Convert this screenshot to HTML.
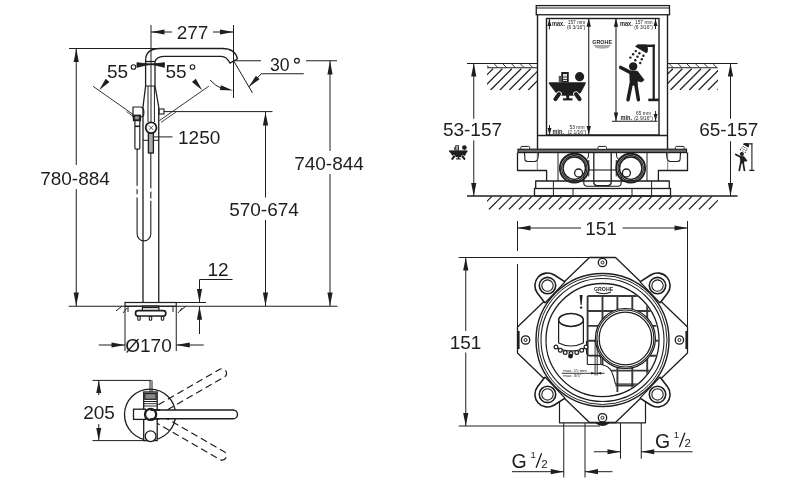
<!DOCTYPE html>
<html><head><meta charset="utf-8"><style>
html,body{margin:0;padding:0;background:#fff;width:800px;height:480px;overflow:hidden}
svg{display:block;font-family:"Liberation Sans",sans-serif;will-change:transform}
</style></head><body>
<svg width="800" height="480" viewBox="0 0 800 480">
<defs><clipPath id="h1"><rect x="487" y="68" width="50.5" height="22.3"/></clipPath><clipPath id="h2"><rect x="667.5" y="68" width="50.5" height="22.3"/></clipPath><clipPath id="h3"><rect x="487" y="196.3" width="231" height="13.4"/></clipPath><clipPath id="h4"><rect x="487" y="63.5" width="50.5" height="4.25"/></clipPath><clipPath id="h5"><rect x="667.5" y="63.5" width="50" height="4.25"/></clipPath><clipPath id="ic"><circle cx="602.5" cy="340" r="55.8"/></clipPath></defs>
<line x1="151" y1="25" x2="151" y2="122" stroke="#1e1e1e" stroke-width="1" />
<line x1="233.5" y1="25" x2="233.5" y2="98" stroke="#1e1e1e" stroke-width="1" />
<line x1="151" y1="32" x2="172" y2="32" stroke="#1e1e1e" stroke-width="1.0" />
<line x1="213" y1="32" x2="233.5" y2="32" stroke="#1e1e1e" stroke-width="1.0" />
<polygon points="151.00,32.00 164.50,29.40 164.50,34.60" fill="#1e1e1e"/>
<polygon points="233.50,32.00 220.00,34.60 220.00,29.40" fill="#1e1e1e"/>
<text x="192.5" y="39" font-size="19" text-anchor="middle" font-weight="normal" fill="#1e1e1e" >277</text>
<line x1="69" y1="48.5" x2="160" y2="48.5" stroke="#1e1e1e" stroke-width="1.0" />
<line x1="76.25" y1="48.5" x2="76.25" y2="165" stroke="#1e1e1e" stroke-width="1.0" />
<line x1="76.25" y1="189" x2="76.25" y2="306" stroke="#1e1e1e" stroke-width="1.0" />
<polygon points="76.25,48.50 78.85,62.00 73.65,62.00" fill="#1e1e1e"/>
<polygon points="76.25,306.00 73.65,292.50 78.85,292.50" fill="#1e1e1e"/>
<text x="75" y="184.5" font-size="19" text-anchor="middle" font-weight="normal" fill="#1e1e1e" >780-884</text>
<path d="M145.6,62 L145.6,60 Q146,48.5 160,48.5 L222.5,48.5 Q235,48.5 237.5,58.75 L230,63.1 Q226.5,56.3 221.25,56.3 L163.8,56.3 Q156,56.5 155,62" stroke="#1e1e1e" stroke-width="1.3" fill="none" stroke-linejoin="round" />
<text x="107" y="77.5" font-size="19" text-anchor="start" font-weight="normal" fill="#1e1e1e" >55</text>
<circle cx="133.5" cy="67" r="2.3" stroke="#1e1e1e" stroke-width="1.1" fill="none"/>
<text x="165.5" y="77.5" font-size="19" text-anchor="start" font-weight="normal" fill="#1e1e1e" >55</text>
<circle cx="192.5" cy="67" r="2.3" stroke="#1e1e1e" stroke-width="1.1" fill="none"/>
<polygon points="136.9,62.6 136.9,67.4 150,64.3" stroke="#1e1e1e" stroke-width="0.6" fill="#1e1e1e" stroke-linejoin="round"/>
<polygon points="164.5,62.6 164.5,67.4 151.5,64.3" stroke="#1e1e1e" stroke-width="0.6" fill="#1e1e1e" stroke-linejoin="round"/>
<line x1="137" y1="64.3" x2="164.5" y2="64.3" stroke="#1e1e1e" stroke-width="1.8" />
<polygon points="99.25,90.00 105.70,78.78 109.47,82.06" fill="#1e1e1e"/>
<polygon points="202.25,90.25 191.98,81.90 195.81,78.68" fill="#1e1e1e"/>
<line x1="93" y1="86.25" x2="133" y2="114.4" stroke="#1e1e1e" stroke-width="0.9" />
<line x1="126.5" y1="111.6" x2="133" y2="116.2" stroke="#1e1e1e" stroke-width="0.8" />
<line x1="208.75" y1="86.25" x2="159.4" y2="120.6" stroke="#1e1e1e" stroke-width="0.9" />
<line x1="176" y1="112" x2="161" y2="122.4" stroke="#1e1e1e" stroke-width="0.8" />
<line x1="145.6" y1="62" x2="145.6" y2="86" stroke="#1e1e1e" stroke-width="1.3" />
<line x1="155" y1="62" x2="155" y2="86" stroke="#1e1e1e" stroke-width="1.3" />
<line x1="145.6" y1="61.5" x2="155" y2="61.5" stroke="#1e1e1e" stroke-width="1.3" />
<line x1="145.6" y1="86" x2="155" y2="86" stroke="#1e1e1e" stroke-width="1" />
<path d="M145.6,86 L143,107 L143,302.5" stroke="#1e1e1e" stroke-width="1.3" fill="none" stroke-linejoin="round" />
<path d="M155,86 L158.75,107 L158.75,302.5" stroke="#1e1e1e" stroke-width="1.3" fill="none" stroke-linejoin="round" />
<line x1="148" y1="86" x2="148" y2="122" stroke="#1e1e1e" stroke-width="1" />
<line x1="154.4" y1="86" x2="154.4" y2="122" stroke="#1e1e1e" stroke-width="1" />
<circle cx="151.1" cy="127.7" r="5.4" stroke="#1e1e1e" stroke-width="1.8" fill="white"/>
<line x1="149" y1="125.6" x2="153.2" y2="129.8" stroke="#1e1e1e" stroke-width="0.8" />
<line x1="153.2" y1="125.6" x2="149" y2="129.8" stroke="#1e1e1e" stroke-width="0.8" />
<rect x="148.4" y="133.3" width="5" height="19.7" rx="0" stroke="#1e1e1e" stroke-width="1.3" fill="#aaa"/>
<line x1="150.8" y1="152.5" x2="150.8" y2="234" stroke="#1e1e1e" stroke-width="1.1" />
<line x1="143" y1="140.3" x2="148.4" y2="140.3" stroke="#1e1e1e" stroke-width="1" />
<line x1="153.4" y1="140.3" x2="158.75" y2="140.3" stroke="#1e1e1e" stroke-width="1" />
<path d="M133,117 L133,107 L141,107 Q143.8,108 143.8,111 L143.8,114 Q143.5,117 141,117 Z" stroke="#1e1e1e" stroke-width="1.2" fill="none" stroke-linejoin="round" />
<rect x="133.8" y="115.6" width="6.3" height="4.6" rx="0" stroke="#1e1e1e" stroke-width="2.0" fill="white"/>
<circle cx="135.5" cy="118" r="0.9" stroke="#1e1e1e" stroke-width="0.7" fill="none"/>
<circle cx="138.4" cy="118" r="0.9" stroke="#1e1e1e" stroke-width="0.7" fill="none"/>
<path d="M134.9,121 L134.9,148 Q134.9,149.2 136.1,149.2 L138.6,149.2 Q139.8,149.2 139.8,148 L139.8,121" stroke="#1e1e1e" stroke-width="1.2" fill="none" stroke-linejoin="round" />
<line x1="134.9" y1="126.3" x2="139.8" y2="126.3" stroke="#1e1e1e" stroke-width="1.6" />
<path d="M137.1,149 L137.1,234 A6.85,6.85 0 0 0 150.8,234" stroke="#1e1e1e" stroke-width="1.1" fill="none" stroke-linejoin="round" />
<rect x="136.1" y="185.8" width="2" height="3.4" rx="0" stroke="#1e1e1e" stroke-width="0" fill="#fff"/>
<rect x="136.1" y="194.2" width="2" height="3.3" rx="0" stroke="#1e1e1e" stroke-width="0" fill="#fff"/>
<rect x="149.8" y="188.3" width="2" height="3.4" rx="0" stroke="#1e1e1e" stroke-width="0" fill="#fff"/>
<rect x="149.8" y="198.3" width="2" height="2.5" rx="0" stroke="#1e1e1e" stroke-width="0" fill="#fff"/>
<rect x="159" y="109" width="5" height="5" rx="0" stroke="#1e1e1e" stroke-width="1.1" fill="none"/>
<line x1="163.75" y1="111.6" x2="272.5" y2="111.6" stroke="#1e1e1e" stroke-width="1" />
<line x1="153.75" y1="136.9" x2="172.5" y2="136.9" stroke="#1e1e1e" stroke-width="1" />
<text x="178" y="143.75" font-size="19" text-anchor="start" font-weight="normal" fill="#1e1e1e" >1250</text>
<line x1="265.5" y1="112" x2="265.5" y2="197.5" stroke="#1e1e1e" stroke-width="1.0" />
<line x1="265.5" y1="220" x2="265.5" y2="306" stroke="#1e1e1e" stroke-width="1.0" />
<polygon points="265.50,112.00 268.10,125.50 262.90,125.50" fill="#1e1e1e"/>
<polygon points="265.50,306.00 262.90,292.50 268.10,292.50" fill="#1e1e1e"/>
<text x="264" y="216" font-size="19" text-anchor="middle" font-weight="normal" fill="#1e1e1e" >570-674</text>
<line x1="330" y1="61" x2="330" y2="151" stroke="#1e1e1e" stroke-width="1.0" />
<line x1="330" y1="174" x2="330" y2="306" stroke="#1e1e1e" stroke-width="1.0" />
<polygon points="330.00,61.00 332.60,74.50 327.40,74.50" fill="#1e1e1e"/>
<polygon points="330.00,306.00 327.40,292.50 332.60,292.50" fill="#1e1e1e"/>
<text x="329" y="170" font-size="19" text-anchor="middle" font-weight="normal" fill="#1e1e1e" >740-844</text>
<line x1="234.4" y1="60.75" x2="261" y2="60.75" stroke="#1e1e1e" stroke-width="1.0" />
<line x1="306" y1="60.75" x2="337" y2="60.75" stroke="#1e1e1e" stroke-width="1.0" />
<text x="270" y="71" font-size="19" text-anchor="start" font-weight="normal" fill="#1e1e1e" textLength="19.6" lengthAdjust="spacingAndGlyphs">30</text>
<circle cx="296.9" cy="60.8" r="2.4" stroke="#1e1e1e" stroke-width="1.2" fill="none"/>
<line x1="233.75" y1="61" x2="252.5" y2="93" stroke="#1e1e1e" stroke-width="1" />
<line x1="261.25" y1="73.75" x2="303.75" y2="73.75" stroke="#1e1e1e" stroke-width="1" />
<line x1="261.25" y1="73.75" x2="249" y2="86.9" stroke="#1e1e1e" stroke-width="1" />
<polygon points="248.75,86.90 255.89,75.75 259.51,79.19" fill="#1e1e1e"/>
<path d="M210,80 Q216,86.5 221.5,88.2" stroke="#1e1e1e" stroke-width="1" fill="none" stroke-linejoin="round" />
<polygon points="233.10,90.60 219.89,90.01 220.97,85.34" fill="#1e1e1e"/>
<rect x="125" y="302.5" width="51.25" height="3.75" rx="0" stroke="#1e1e1e" stroke-width="1.2" fill="none"/>
<line x1="68.75" y1="306.25" x2="337.5" y2="306.25" stroke="#1e1e1e" stroke-width="1.1" />
<line x1="125" y1="306" x2="125" y2="351" stroke="#1e1e1e" stroke-width="1" />
<line x1="176.25" y1="306" x2="176.25" y2="351" stroke="#1e1e1e" stroke-width="1" />
<line x1="116" y1="311" x2="122" y2="306" stroke="#1e1e1e" stroke-width="1" />
<line x1="180" y1="311" x2="186" y2="306" stroke="#1e1e1e" stroke-width="1" />
<line x1="123" y1="313" x2="127" y2="308" stroke="#1e1e1e" stroke-width="0.9" />
<line x1="178" y1="313" x2="182" y2="308" stroke="#1e1e1e" stroke-width="0.9" />
<line x1="128" y1="306" x2="128" y2="312" stroke="#1e1e1e" stroke-width="1" />
<line x1="173" y1="306" x2="173" y2="312" stroke="#1e1e1e" stroke-width="1" />
<rect x="142.4" y="306" width="16.5" height="4.7" rx="0" stroke="#1e1e1e" stroke-width="1.2" fill="white"/>
<line x1="142.4" y1="307.3" x2="158.9" y2="307.3" stroke="#1e1e1e" stroke-width="1.8" />
<rect x="137.8" y="316" width="2.4" height="4.3" rx="1" stroke="#1e1e1e" stroke-width="1.1" fill="white"/>
<rect x="149.3" y="316" width="2.4" height="4.3" rx="1" stroke="#1e1e1e" stroke-width="1.1" fill="white"/>
<rect x="161.3" y="316" width="2.4" height="4.3" rx="1" stroke="#1e1e1e" stroke-width="1.1" fill="white"/>
<rect x="135.5" y="310.7" width="30.3" height="5.3" rx="2.5" stroke="#1e1e1e" stroke-width="1.7" fill="white"/>
<line x1="98.75" y1="345" x2="125" y2="345" stroke="#1e1e1e" stroke-width="1.0" />
<line x1="176.25" y1="345" x2="203.75" y2="345" stroke="#1e1e1e" stroke-width="1.0" />
<polygon points="125.00,345.00 111.50,347.60 111.50,342.40" fill="#1e1e1e"/>
<polygon points="176.25,345.00 189.75,342.40 189.75,347.60" fill="#1e1e1e"/>
<text x="148.5" y="352" font-size="19" text-anchor="middle" font-weight="normal" fill="#1e1e1e" >Ø170</text>
<line x1="199.5" y1="279.5" x2="232.5" y2="279.5" stroke="#1e1e1e" stroke-width="1.0" />
<line x1="199.5" y1="279.5" x2="199.5" y2="302.5" stroke="#1e1e1e" stroke-width="1.0" />
<polygon points="199.50,302.50 196.90,289.00 202.10,289.00" fill="#1e1e1e"/>
<line x1="176" y1="302.5" x2="206" y2="302.5" stroke="#1e1e1e" stroke-width="1.0" />
<line x1="199.5" y1="306.25" x2="199.5" y2="334" stroke="#1e1e1e" stroke-width="1.0" />
<polygon points="199.50,306.25 202.10,319.75 196.90,319.75" fill="#1e1e1e"/>
<text x="207.5" y="276" font-size="19" text-anchor="start" font-weight="normal" fill="#1e1e1e" >12</text>
<line x1="92.5" y1="380.4" x2="151.3" y2="380.4" stroke="#1e1e1e" stroke-width="1.0" />
<line x1="150" y1="380.4" x2="150" y2="392" stroke="#1e1e1e" stroke-width="1.0" />
<line x1="152" y1="380.4" x2="152" y2="392" stroke="#1e1e1e" stroke-width="1.0" />
<line x1="92.5" y1="440.6" x2="151" y2="440.6" stroke="#1e1e1e" stroke-width="1.0" />
<line x1="98.75" y1="380.4" x2="98.75" y2="395" stroke="#1e1e1e" stroke-width="1.0" />
<line x1="98.75" y1="424" x2="98.75" y2="440.6" stroke="#1e1e1e" stroke-width="1.0" />
<polygon points="98.75,380.40 101.25,392.90 96.25,392.90" fill="#1e1e1e"/>
<polygon points="98.75,440.60 96.25,428.10 101.25,428.10" fill="#1e1e1e"/>
<text x="99" y="419" font-size="19" text-anchor="middle" font-weight="normal" fill="#1e1e1e" >205</text>
<circle cx="150" cy="414.6" r="25.5" stroke="#1e1e1e" stroke-width="1.3" fill="none"/>
<path d="M158.0,415.2 L224.2,377.0 A4.4,4.4 0 0 0 219.8,369.3 L153.6,407.6" stroke="#1e1e1e" stroke-width="1.2" fill="none" stroke-linejoin="round" stroke-dasharray="7,4"/>
<path d="M153.6,421.2 L219.8,459.5 A4.4,4.4 0 0 0 224.2,451.8 L158.0,413.6" stroke="#1e1e1e" stroke-width="1.2" fill="none" stroke-linejoin="round" stroke-dasharray="7,4"/>
<rect x="143.7" y="392" width="13.5" height="48.6" rx="0" stroke="#1e1e1e" stroke-width="1.3" fill="white"/>
<rect x="144.8" y="393.5" width="11.3" height="5.8" rx="0" stroke="#1e1e1e" stroke-width="1.2" fill="#888"/>
<line x1="143.7" y1="401.5" x2="157.2" y2="401.5" stroke="#1e1e1e" stroke-width="1" />
<line x1="143.7" y1="403.7" x2="157.2" y2="403.7" stroke="#1e1e1e" stroke-width="0.9" />
<line x1="143.7" y1="406" x2="157.2" y2="406" stroke="#1e1e1e" stroke-width="0.9" />
<rect x="133.5" y="409.2" width="12" height="10.2" rx="0" stroke="#1e1e1e" stroke-width="1.3" fill="white"/>
<path d="M150.6,410 L233.1,410 A4.4,4.4 0 0 1 233.1,418.8 L150.6,418.8" stroke="#1e1e1e" stroke-width="1.4" fill="white" stroke-linejoin="round" />
<circle cx="150.6" cy="414.4" r="5.6" stroke="#1e1e1e" stroke-width="2.2" fill="none"/>
<path d="M150.6,410 L160,410 M150.6,418.8 L160,418.8" stroke="#1e1e1e" stroke-width="1.4" fill="none" stroke-linejoin="round" />
<circle cx="150.6" cy="436.2" r="5.4" stroke="#1e1e1e" stroke-width="1.3" fill="white"/>
<line x1="467" y1="63.5" x2="537.5" y2="63.5" stroke="#1e1e1e" stroke-width="1.2" />
<line x1="487" y1="67.75" x2="537.5" y2="67.75" stroke="#1e1e1e" stroke-width="1.2" />
<g clip-path="url(#h4)">
<line x1="476.25" y1="63.5" x2="480.5" y2="67.75" stroke="#1e1e1e" stroke-width="0.9" />
<line x1="485.0" y1="63.5" x2="489.25" y2="67.75" stroke="#1e1e1e" stroke-width="0.9" />
<line x1="493.75" y1="63.5" x2="498.0" y2="67.75" stroke="#1e1e1e" stroke-width="0.9" />
<line x1="502.5" y1="63.5" x2="506.75" y2="67.75" stroke="#1e1e1e" stroke-width="0.9" />
<line x1="511.25" y1="63.5" x2="515.5" y2="67.75" stroke="#1e1e1e" stroke-width="0.9" />
<line x1="520.0" y1="63.5" x2="524.25" y2="67.75" stroke="#1e1e1e" stroke-width="0.9" />
<line x1="528.75" y1="63.5" x2="533.0" y2="67.75" stroke="#1e1e1e" stroke-width="0.9" />
<line x1="537.5" y1="63.5" x2="541.75" y2="67.75" stroke="#1e1e1e" stroke-width="0.9" />
</g>
<g clip-path="url(#h1)">
<line x1="452.95" y1="90" x2="474.2" y2="68.75" stroke="#1e1e1e" stroke-width="1.2" />
<line x1="462.35" y1="90" x2="483.6" y2="68.75" stroke="#1e1e1e" stroke-width="1.2" />
<line x1="471.75" y1="90" x2="493.0" y2="68.75" stroke="#1e1e1e" stroke-width="1.2" />
<line x1="481.15" y1="90" x2="502.4" y2="68.75" stroke="#1e1e1e" stroke-width="1.2" />
<line x1="490.55" y1="90" x2="511.8" y2="68.75" stroke="#1e1e1e" stroke-width="1.2" />
<line x1="499.95" y1="90" x2="521.2" y2="68.75" stroke="#1e1e1e" stroke-width="1.2" />
<line x1="509.35" y1="90" x2="530.6" y2="68.75" stroke="#1e1e1e" stroke-width="1.2" />
<line x1="518.75" y1="90" x2="540.0" y2="68.75" stroke="#1e1e1e" stroke-width="1.2" />
<line x1="528.15" y1="90" x2="549.4" y2="68.75" stroke="#1e1e1e" stroke-width="1.2" />
<line x1="537.55" y1="90" x2="558.8" y2="68.75" stroke="#1e1e1e" stroke-width="1.2" />
<line x1="546.95" y1="90" x2="568.2" y2="68.75" stroke="#1e1e1e" stroke-width="1.2" />
<line x1="556.35" y1="90" x2="577.6" y2="68.75" stroke="#1e1e1e" stroke-width="1.2" />
</g>
<line x1="667.5" y1="63.5" x2="737.5" y2="63.5" stroke="#1e1e1e" stroke-width="1.2" />
<line x1="667.5" y1="67.75" x2="717.5" y2="67.75" stroke="#1e1e1e" stroke-width="1.2" />
<g clip-path="url(#h5)">
<line x1="651.5" y1="63.5" x2="655.75" y2="67.75" stroke="#1e1e1e" stroke-width="0.9" />
<line x1="660.25" y1="63.5" x2="664.5" y2="67.75" stroke="#1e1e1e" stroke-width="0.9" />
<line x1="669.0" y1="63.5" x2="673.25" y2="67.75" stroke="#1e1e1e" stroke-width="0.9" />
<line x1="677.75" y1="63.5" x2="682.0" y2="67.75" stroke="#1e1e1e" stroke-width="0.9" />
<line x1="686.5" y1="63.5" x2="690.75" y2="67.75" stroke="#1e1e1e" stroke-width="0.9" />
<line x1="695.25" y1="63.5" x2="699.5" y2="67.75" stroke="#1e1e1e" stroke-width="0.9" />
<line x1="704.0" y1="63.5" x2="708.25" y2="67.75" stroke="#1e1e1e" stroke-width="0.9" />
<line x1="712.75" y1="63.5" x2="717.0" y2="67.75" stroke="#1e1e1e" stroke-width="0.9" />
<line x1="721.5" y1="63.5" x2="725.75" y2="67.75" stroke="#1e1e1e" stroke-width="0.9" />
</g>
<g clip-path="url(#h2)">
<line x1="632.85" y1="90" x2="654.1" y2="68.75" stroke="#1e1e1e" stroke-width="1.2" />
<line x1="642.25" y1="90" x2="663.5" y2="68.75" stroke="#1e1e1e" stroke-width="1.2" />
<line x1="651.65" y1="90" x2="672.9" y2="68.75" stroke="#1e1e1e" stroke-width="1.2" />
<line x1="661.05" y1="90" x2="682.3" y2="68.75" stroke="#1e1e1e" stroke-width="1.2" />
<line x1="670.45" y1="90" x2="691.7" y2="68.75" stroke="#1e1e1e" stroke-width="1.2" />
<line x1="679.85" y1="90" x2="701.1" y2="68.75" stroke="#1e1e1e" stroke-width="1.2" />
<line x1="689.25" y1="90" x2="710.5" y2="68.75" stroke="#1e1e1e" stroke-width="1.2" />
<line x1="698.65" y1="90" x2="719.9" y2="68.75" stroke="#1e1e1e" stroke-width="1.2" />
<line x1="708.05" y1="90" x2="729.3" y2="68.75" stroke="#1e1e1e" stroke-width="1.2" />
<line x1="717.45" y1="90" x2="738.7" y2="68.75" stroke="#1e1e1e" stroke-width="1.2" />
<line x1="726.85" y1="90" x2="748.1" y2="68.75" stroke="#1e1e1e" stroke-width="1.2" />
<line x1="736.25" y1="90" x2="757.5" y2="68.75" stroke="#1e1e1e" stroke-width="1.2" />
</g>
<line x1="467" y1="196" x2="737.5" y2="196" stroke="#1e1e1e" stroke-width="1.5" />
<g clip-path="url(#h3)">
<line x1="458.8" y1="209.5" x2="472.0" y2="196.3" stroke="#1e1e1e" stroke-width="1.1" />
<line x1="468.8" y1="209.5" x2="482.0" y2="196.3" stroke="#1e1e1e" stroke-width="1.1" />
<line x1="478.8" y1="209.5" x2="492.0" y2="196.3" stroke="#1e1e1e" stroke-width="1.1" />
<line x1="488.8" y1="209.5" x2="502.0" y2="196.3" stroke="#1e1e1e" stroke-width="1.1" />
<line x1="498.8" y1="209.5" x2="512.0" y2="196.3" stroke="#1e1e1e" stroke-width="1.1" />
<line x1="508.8" y1="209.5" x2="522.0" y2="196.3" stroke="#1e1e1e" stroke-width="1.1" />
<line x1="518.8" y1="209.5" x2="532.0" y2="196.3" stroke="#1e1e1e" stroke-width="1.1" />
<line x1="528.8" y1="209.5" x2="542.0" y2="196.3" stroke="#1e1e1e" stroke-width="1.1" />
<line x1="538.8" y1="209.5" x2="552.0" y2="196.3" stroke="#1e1e1e" stroke-width="1.1" />
<line x1="548.8" y1="209.5" x2="562.0" y2="196.3" stroke="#1e1e1e" stroke-width="1.1" />
<line x1="558.8" y1="209.5" x2="572.0" y2="196.3" stroke="#1e1e1e" stroke-width="1.1" />
<line x1="568.8" y1="209.5" x2="582.0" y2="196.3" stroke="#1e1e1e" stroke-width="1.1" />
<line x1="578.8" y1="209.5" x2="592.0" y2="196.3" stroke="#1e1e1e" stroke-width="1.1" />
<line x1="588.8" y1="209.5" x2="602.0" y2="196.3" stroke="#1e1e1e" stroke-width="1.1" />
<line x1="598.8" y1="209.5" x2="612.0" y2="196.3" stroke="#1e1e1e" stroke-width="1.1" />
<line x1="608.8" y1="209.5" x2="622.0" y2="196.3" stroke="#1e1e1e" stroke-width="1.1" />
<line x1="618.8" y1="209.5" x2="632.0" y2="196.3" stroke="#1e1e1e" stroke-width="1.1" />
<line x1="628.8" y1="209.5" x2="642.0" y2="196.3" stroke="#1e1e1e" stroke-width="1.1" />
<line x1="638.8" y1="209.5" x2="652.0" y2="196.3" stroke="#1e1e1e" stroke-width="1.1" />
<line x1="648.8" y1="209.5" x2="662.0" y2="196.3" stroke="#1e1e1e" stroke-width="1.1" />
<line x1="658.8" y1="209.5" x2="672.0" y2="196.3" stroke="#1e1e1e" stroke-width="1.1" />
<line x1="668.8" y1="209.5" x2="682.0" y2="196.3" stroke="#1e1e1e" stroke-width="1.1" />
<line x1="678.8" y1="209.5" x2="692.0" y2="196.3" stroke="#1e1e1e" stroke-width="1.1" />
<line x1="688.8" y1="209.5" x2="702.0" y2="196.3" stroke="#1e1e1e" stroke-width="1.1" />
<line x1="698.8" y1="209.5" x2="712.0" y2="196.3" stroke="#1e1e1e" stroke-width="1.1" />
<line x1="708.8" y1="209.5" x2="722.0" y2="196.3" stroke="#1e1e1e" stroke-width="1.1" />
<line x1="718.8" y1="209.5" x2="732.0" y2="196.3" stroke="#1e1e1e" stroke-width="1.1" />
<line x1="728.8" y1="209.5" x2="742.0" y2="196.3" stroke="#1e1e1e" stroke-width="1.1" />
</g>
<line x1="473.75" y1="63.5" x2="473.75" y2="118.75" stroke="#1e1e1e" stroke-width="1.0" />
<line x1="473.75" y1="140.4" x2="473.75" y2="196" stroke="#1e1e1e" stroke-width="1.0" />
<polygon points="473.75,63.50 476.35,76.50 471.15,76.50" fill="#1e1e1e"/>
<polygon points="473.75,196.00 471.15,183.00 476.35,183.00" fill="#1e1e1e"/>
<text x="472.5" y="136.25" font-size="19" text-anchor="middle" font-weight="normal" fill="#1e1e1e" >53-157</text>
<line x1="730.5" y1="63.5" x2="730.5" y2="118.75" stroke="#1e1e1e" stroke-width="1.0" />
<line x1="730.5" y1="141.2" x2="730.5" y2="196" stroke="#1e1e1e" stroke-width="1.0" />
<polygon points="730.50,63.50 733.10,76.50 727.90,76.50" fill="#1e1e1e"/>
<polygon points="730.50,196.00 727.90,183.00 733.10,183.00" fill="#1e1e1e"/>
<text x="728.75" y="136.25" font-size="19" text-anchor="middle" font-weight="normal" fill="#1e1e1e" >65-157</text>
<rect x="536.25" y="5.6" width="133.25" height="9.15" rx="0" stroke="#1e1e1e" stroke-width="1.3" fill="none"/>
<line x1="536.25" y1="8.0" x2="669.5" y2="8.0" stroke="#1e1e1e" stroke-width="1.1" />
<line x1="537.5" y1="14.75" x2="537.5" y2="149.2" stroke="#1e1e1e" stroke-width="1.4" />
<line x1="667.5" y1="14.75" x2="667.5" y2="149.2" stroke="#1e1e1e" stroke-width="1.4" />
<rect x="546.5" y="18.5" width="112.5" height="116.5" rx="0" stroke="#1e1e1e" stroke-width="1.4" fill="none"/>
<line x1="537.5" y1="135.5" x2="667.5" y2="135.5" stroke="#1e1e1e" stroke-width="1.6" />
<line x1="588.75" y1="18.5" x2="588.75" y2="135" stroke="#1e1e1e" stroke-width="1.1" />
<polygon points="588.75,18.30 590.95,26.80 586.55,26.80" fill="#1e1e1e"/>
<polygon points="588.75,134.50 586.55,126.00 590.95,126.00" fill="#1e1e1e"/>
<line x1="616" y1="18.5" x2="616" y2="121.25" stroke="#1e1e1e" stroke-width="1.1" />
<polygon points="616.00,18.30 618.20,26.80 613.80,26.80" fill="#1e1e1e"/>
<polygon points="616.00,121.00 613.80,112.50 618.20,112.50" fill="#1e1e1e"/>
<line x1="612" y1="121.25" x2="657.5" y2="121.25" stroke="#1e1e1e" stroke-width="1.1" />
<line x1="549.4" y1="19" x2="549.4" y2="29.4" stroke="#1e1e1e" stroke-width="1" />
<polygon points="549.40,19.00 551.40,26.00 547.40,26.00" fill="#1e1e1e"/>
<line x1="549.5" y1="125" x2="549.5" y2="135" stroke="#1e1e1e" stroke-width="1" />
<polygon points="549.50,135.00 547.50,128.00 551.50,128.00" fill="#1e1e1e"/>
<line x1="655.5" y1="19" x2="655.5" y2="29" stroke="#1e1e1e" stroke-width="1" />
<polygon points="655.50,19.00 657.50,26.00 653.50,26.00" fill="#1e1e1e"/>
<line x1="655.6" y1="111" x2="655.6" y2="121" stroke="#1e1e1e" stroke-width="1" />
<polygon points="655.60,121.00 653.60,114.00 657.60,114.00" fill="#1e1e1e"/>
<text x="552" y="25.6" font-size="7.6" text-anchor="start" font-weight="bold" fill="#1e1e1e" textLength="12.8" lengthAdjust="spacingAndGlyphs">max.</text>
<text x="576.5" y="23.8" font-size="4.9" text-anchor="middle" font-weight="normal" fill="#1e1e1e" >157 mm</text>
<text x="576.2" y="29.2" font-size="4.9" text-anchor="middle" font-weight="normal" fill="#1e1e1e" >(6 3/16")</text>
<text x="620" y="25.6" font-size="7.6" text-anchor="start" font-weight="bold" fill="#1e1e1e" textLength="12.8" lengthAdjust="spacingAndGlyphs">max.</text>
<text x="643.75" y="23.8" font-size="4.9" text-anchor="middle" font-weight="normal" fill="#1e1e1e" >157 mm</text>
<text x="643.5" y="29.1" font-size="4.9" text-anchor="middle" font-weight="normal" fill="#1e1e1e" >(6 3/16")</text>
<text x="552.5" y="134" font-size="7.6" text-anchor="start" font-weight="bold" fill="#1e1e1e" textLength="11.5" lengthAdjust="spacingAndGlyphs">min.</text>
<text x="577" y="129.2" font-size="4.9" text-anchor="middle" font-weight="normal" fill="#1e1e1e" >53 mm</text>
<text x="577" y="134.2" font-size="4.9" text-anchor="middle" font-weight="normal" fill="#1e1e1e" >(2 1/16")</text>
<text x="620.6" y="120.2" font-size="7.6" text-anchor="start" font-weight="bold" fill="#1e1e1e" textLength="11.5" lengthAdjust="spacingAndGlyphs">min.</text>
<text x="643.5" y="115.2" font-size="4.9" text-anchor="middle" font-weight="normal" fill="#1e1e1e" >65 mm</text>
<text x="643.5" y="120.2" font-size="4.9" text-anchor="middle" font-weight="normal" fill="#1e1e1e" >(2 9/16")</text>
<text x="602.1" y="44.0" font-size="5.0" text-anchor="middle" font-weight="bold" fill="#1e1e1e" textLength="19.8" lengthAdjust="spacingAndGlyphs">GROHE</text>
<path d="M593.3,45 L596,48 L602.1,48.8 L608.2,48 L610.9,45 Z" stroke="#1e1e1e" stroke-width="0" fill="#aaa" stroke-linejoin="round" />
<g transform="translate(549.2,82.5) scale(1)">
<polygon points="0,0 36.2,0 36.2,1.25 31.6,10 26.6,12.9 12.5,12.9 6.6,10 0,1.25" stroke="#1e1e1e" stroke-width="0.5" fill="#1e1e1e" stroke-linejoin="round"/>
<line x1="9.8" y1="11.6" x2="6.2" y2="16.7" stroke="#fff" stroke-width="5.6" stroke-linecap="round"/>
<line x1="26.8" y1="11.6" x2="30.4" y2="16.7" stroke="#fff" stroke-width="5.6" stroke-linecap="round"/>
<line x1="9.8" y1="11.6" x2="6.2" y2="16.7" stroke="#1e1e1e" stroke-width="4" stroke-linecap="round"/>
<line x1="26.8" y1="11.6" x2="30.4" y2="16.7" stroke="#1e1e1e" stroke-width="4" stroke-linecap="round"/>
<rect x="17.05" y="12" width="2.95" height="5" rx="0" stroke="#1e1e1e" stroke-width="0" fill="#1e1e1e"/>
<rect x="13.7" y="15.8" width="9.6" height="2.1" rx="0" stroke="#1e1e1e" stroke-width="0" fill="#1e1e1e"/>
<rect x="12.05" y="-10.5" width="7.5" height="10.5" rx="0" stroke="#1e1e1e" stroke-width="0" fill="#1e1e1e"/>
<rect x="9.55" y="-6.7" width="2.95" height="6.7" rx="0" stroke="#1e1e1e" stroke-width="0" fill="#555"/>
<rect x="13.8" y="-8.5" width="4" height="7" rx="0" stroke="#1e1e1e" stroke-width="0" fill="#ddd"/>
<line x1="13.8" y1="-5.5" x2="17.8" y2="-5.5" stroke="#1e1e1e" stroke-width="0.8" />
<line x1="13.8" y1="-3" x2="17.8" y2="-3" stroke="#1e1e1e" stroke-width="0.8" />
<circle cx="30.4" cy="-5.8" r="4.6" stroke="#1e1e1e" stroke-width="0" fill="#1e1e1e"/>
</g>
<g transform="translate(449.2,150.5) scale(0.5)">
<polygon points="0,0 36.2,0 36.2,1.25 31.6,10 26.6,12.9 12.5,12.9 6.6,10 0,1.25" stroke="#1e1e1e" stroke-width="0.5" fill="#1e1e1e" stroke-linejoin="round"/>
<line x1="9.8" y1="11.6" x2="6.2" y2="16.7" stroke="#fff" stroke-width="5.6" stroke-linecap="round"/>
<line x1="26.8" y1="11.6" x2="30.4" y2="16.7" stroke="#fff" stroke-width="5.6" stroke-linecap="round"/>
<line x1="9.8" y1="11.6" x2="6.2" y2="16.7" stroke="#1e1e1e" stroke-width="4" stroke-linecap="round"/>
<line x1="26.8" y1="11.6" x2="30.4" y2="16.7" stroke="#1e1e1e" stroke-width="4" stroke-linecap="round"/>
<rect x="17.05" y="12" width="2.95" height="5" rx="0" stroke="#1e1e1e" stroke-width="0" fill="#1e1e1e"/>
<rect x="13.7" y="15.8" width="9.6" height="2.1" rx="0" stroke="#1e1e1e" stroke-width="0" fill="#1e1e1e"/>
<rect x="12.05" y="-10.5" width="7.5" height="10.5" rx="0" stroke="#1e1e1e" stroke-width="0" fill="#1e1e1e"/>
<rect x="9.55" y="-6.7" width="2.95" height="6.7" rx="0" stroke="#1e1e1e" stroke-width="0" fill="#555"/>
<rect x="13.8" y="-8.5" width="4" height="7" rx="0" stroke="#1e1e1e" stroke-width="0" fill="#ddd"/>
<line x1="13.8" y1="-5.5" x2="17.8" y2="-5.5" stroke="#1e1e1e" stroke-width="0.8" />
<line x1="13.8" y1="-3" x2="17.8" y2="-3" stroke="#1e1e1e" stroke-width="0.8" />
<circle cx="30.4" cy="-5.8" r="4.6" stroke="#1e1e1e" stroke-width="0" fill="#1e1e1e"/>
</g>
<g transform="translate(620,44) scale(1)">
<path d="M15,2.5 L17.5,0.6 L26.4,0.6 Q28.5,3 27.7,7.9 L26.4,9.2 Z" stroke="#1e1e1e" stroke-width="0" fill="#1e1e1e" stroke-linejoin="round" />
<rect x="17.5" y="0.6" width="17.3" height="2.4" rx="0" stroke="#1e1e1e" stroke-width="0" fill="#1e1e1e"/>
<rect x="32.6" y="0.6" width="2.2" height="55.2" rx="0" stroke="#1e1e1e" stroke-width="0" fill="#1e1e1e"/>
<rect x="28.3" y="54.6" width="10.5" height="2.6" rx="0" stroke="#1e1e1e" stroke-width="0" fill="#1e1e1e"/>
<circle cx="15.8" cy="7.1" r="1.2" stroke="#1e1e1e" stroke-width="0" fill="#1e1e1e"/>
<circle cx="13.1" cy="10.3" r="1.2" stroke="#1e1e1e" stroke-width="0" fill="#1e1e1e"/>
<circle cx="19.4" cy="9.2" r="1.2" stroke="#1e1e1e" stroke-width="0" fill="#1e1e1e"/>
<circle cx="10.4" cy="13.6" r="1.2" stroke="#1e1e1e" stroke-width="0" fill="#1e1e1e"/>
<circle cx="17.5" cy="12.8" r="1.2" stroke="#1e1e1e" stroke-width="0" fill="#1e1e1e"/>
<circle cx="23.4" cy="11.7" r="1.2" stroke="#1e1e1e" stroke-width="0" fill="#1e1e1e"/>
<circle cx="15.3" cy="16.3" r="1.2" stroke="#1e1e1e" stroke-width="0" fill="#1e1e1e"/>
<circle cx="21.8" cy="15.2" r="1.2" stroke="#1e1e1e" stroke-width="0" fill="#1e1e1e"/>
<circle cx="20.2" cy="19" r="1.2" stroke="#1e1e1e" stroke-width="0" fill="#1e1e1e"/>
<circle cx="13.2" cy="22.5" r="4.2" stroke="#1e1e1e" stroke-width="0" fill="#1e1e1e"/>
<line x1="0.7" y1="23.5" x2="11.7" y2="29.2" stroke="#1e1e1e" stroke-width="3.6" stroke-linecap="round"/>
<path d="M9.6,27.1 L17.4,27.1 L24.2,36 L21.6,38 L17.4,37 L17.4,41.2 L10.1,41.2 Z" stroke="#1e1e1e" stroke-width="0.6" fill="#1e1e1e" stroke-linejoin="round" />
<line x1="11.1" y1="40.2" x2="8" y2="55.8" stroke="#1e1e1e" stroke-width="3.5" stroke-linecap="round"/>
<line x1="15.8" y1="40.2" x2="18.4" y2="55.8" stroke="#1e1e1e" stroke-width="3.5" stroke-linecap="round"/>
</g>
<g transform="translate(735.4,143) scale(0.49)">
<path d="M15,2.5 L17.5,0.6 L26.4,0.6 Q28.5,3 27.7,7.9 L26.4,9.2 Z" stroke="#1e1e1e" stroke-width="0" fill="#1e1e1e" stroke-linejoin="round" />
<rect x="17.5" y="0.6" width="17.3" height="2.4" rx="0" stroke="#1e1e1e" stroke-width="0" fill="#1e1e1e"/>
<rect x="32.6" y="0.6" width="2.2" height="55.2" rx="0" stroke="#1e1e1e" stroke-width="0" fill="#1e1e1e"/>
<rect x="28.3" y="54.6" width="10.5" height="2.6" rx="0" stroke="#1e1e1e" stroke-width="0" fill="#1e1e1e"/>
<circle cx="15.8" cy="7.1" r="1.2" stroke="#1e1e1e" stroke-width="0" fill="#1e1e1e"/>
<circle cx="13.1" cy="10.3" r="1.2" stroke="#1e1e1e" stroke-width="0" fill="#1e1e1e"/>
<circle cx="19.4" cy="9.2" r="1.2" stroke="#1e1e1e" stroke-width="0" fill="#1e1e1e"/>
<circle cx="10.4" cy="13.6" r="1.2" stroke="#1e1e1e" stroke-width="0" fill="#1e1e1e"/>
<circle cx="17.5" cy="12.8" r="1.2" stroke="#1e1e1e" stroke-width="0" fill="#1e1e1e"/>
<circle cx="23.4" cy="11.7" r="1.2" stroke="#1e1e1e" stroke-width="0" fill="#1e1e1e"/>
<circle cx="15.3" cy="16.3" r="1.2" stroke="#1e1e1e" stroke-width="0" fill="#1e1e1e"/>
<circle cx="21.8" cy="15.2" r="1.2" stroke="#1e1e1e" stroke-width="0" fill="#1e1e1e"/>
<circle cx="20.2" cy="19" r="1.2" stroke="#1e1e1e" stroke-width="0" fill="#1e1e1e"/>
<circle cx="13.2" cy="22.5" r="4.2" stroke="#1e1e1e" stroke-width="0" fill="#1e1e1e"/>
<line x1="0.7" y1="23.5" x2="11.7" y2="29.2" stroke="#1e1e1e" stroke-width="3.6" stroke-linecap="round"/>
<path d="M9.6,27.1 L17.4,27.1 L24.2,36 L21.6,38 L17.4,37 L17.4,41.2 L10.1,41.2 Z" stroke="#1e1e1e" stroke-width="0.6" fill="#1e1e1e" stroke-linejoin="round" />
<line x1="11.1" y1="40.2" x2="8" y2="55.8" stroke="#1e1e1e" stroke-width="3.5" stroke-linecap="round"/>
<line x1="15.8" y1="40.2" x2="18.4" y2="55.8" stroke="#1e1e1e" stroke-width="3.5" stroke-linecap="round"/>
</g>
<rect x="518" y="149.2" width="168.5" height="3.4" rx="0" stroke="#1e1e1e" stroke-width="1.2" fill="#666"/>
<rect x="520.8" y="146.4" width="8.8" height="2.8" rx="1" stroke="#1e1e1e" stroke-width="1" fill="white"/>
<rect x="675.4" y="146.4" width="8.8" height="2.8" rx="1" stroke="#1e1e1e" stroke-width="1" fill="white"/>
<rect x="598" y="146.4" width="8.5" height="3" rx="1" stroke="#1e1e1e" stroke-width="1" fill="white"/>
<path d="M517.5,152.6 L517.5,170.5 L546.6,170.5 L546.6,181" stroke="#1e1e1e" stroke-width="1.3" fill="none" stroke-linejoin="round" />
<path d="M524.5,152.6 L525,160 Q525.5,161.5 528,161.5 L535,161.5 Q537.5,161 538,158 L538.5,152.6" stroke="#1e1e1e" stroke-width="1.1" fill="none" stroke-linejoin="round" />
<line x1="537.3" y1="152.6" x2="537.3" y2="170.5" stroke="#555" stroke-width="0.8" />
<path d="M687.5,152.6 L687.5,170.5 L658.4,170.5 L658.4,181" stroke="#1e1e1e" stroke-width="1.3" fill="none" stroke-linejoin="round" />
<path d="M680.5,152.6 L680,160 Q679.5,161.5 677,161.5 L670,161.5 Q667.5,161 667,158 L666.5,152.6" stroke="#1e1e1e" stroke-width="1.1" fill="none" stroke-linejoin="round" />
<line x1="667.7" y1="152.6" x2="667.7" y2="170.5" stroke="#555" stroke-width="0.8" />
<path d="M535.7,188.5 L535.7,181 L669.3,181 L669.3,188.5" stroke="#1e1e1e" stroke-width="1.3" fill="none" stroke-linejoin="round" />
<rect x="534.5" y="188.5" width="136" height="7.5" rx="0" stroke="#1e1e1e" stroke-width="1.3" fill="none"/>
<line x1="553.4" y1="181" x2="553.4" y2="196" stroke="#1e1e1e" stroke-width="1" />
<line x1="651.6" y1="181" x2="651.6" y2="196" stroke="#1e1e1e" stroke-width="1" />
<line x1="573" y1="188.5" x2="573" y2="196" stroke="#1e1e1e" stroke-width="1" />
<line x1="632" y1="188.5" x2="632" y2="196" stroke="#1e1e1e" stroke-width="1" />
<line x1="558" y1="152.6" x2="558" y2="181" stroke="#1e1e1e" stroke-width="1" />
<line x1="647" y1="152.6" x2="647" y2="181" stroke="#1e1e1e" stroke-width="1" />
<circle cx="574.3" cy="168.2" r="14.4" stroke="#1e1e1e" stroke-width="1.9" fill="none"/>
<circle cx="574.3" cy="168.2" r="12.6" stroke="#1e1e1e" stroke-width="1.1" fill="none"/>
<circle cx="574.3" cy="168.2" r="11.2" stroke="#1e1e1e" stroke-width="1.4" fill="none"/>
<circle cx="578.6" cy="173" r="4" stroke="#1e1e1e" stroke-width="1.3" fill="white"/>
<circle cx="630.7" cy="168.2" r="14.4" stroke="#1e1e1e" stroke-width="1.9" fill="none"/>
<circle cx="630.7" cy="168.2" r="12.6" stroke="#1e1e1e" stroke-width="1.1" fill="none"/>
<circle cx="630.7" cy="168.2" r="11.2" stroke="#1e1e1e" stroke-width="1.4" fill="none"/>
<circle cx="626.4" cy="173" r="4" stroke="#1e1e1e" stroke-width="1.3" fill="white"/>
<path d="M593.8,152.6 L593.8,182.5 Q594,185.6 597,185.6 L608,185.6 Q611,185.6 611.2,182.5 L611.2,152.6" stroke="#1e1e1e" stroke-width="1.3" fill="none" stroke-linejoin="round" />
<line x1="588.75" y1="170" x2="616.25" y2="170" stroke="#1e1e1e" stroke-width="1.1" />
<path d="M583.8,176.5 L583.8,183 Q584,186.2 587,186.2 L618,186.2 Q621,186.2 621.2,183 L621.2,176.5" stroke="#1e1e1e" stroke-width="1.1" fill="none" stroke-linejoin="round" />
<path d="M588.75,152.6 Q589,158 586,160" stroke="#1e1e1e" stroke-width="1" fill="none" stroke-linejoin="round" />
<path d="M616.25,152.6 Q616,158 619,160" stroke="#1e1e1e" stroke-width="1" fill="none" stroke-linejoin="round" />
<line x1="588.75" y1="160" x2="588.75" y2="176.5" stroke="#1e1e1e" stroke-width="1" />
<line x1="616.25" y1="160" x2="616.25" y2="176.5" stroke="#1e1e1e" stroke-width="1" />
<line x1="517.5" y1="221" x2="517.5" y2="251" stroke="#1e1e1e" stroke-width="1.0" />
<line x1="517.5" y1="264" x2="517.5" y2="331" stroke="#1e1e1e" stroke-width="1.0" />
<line x1="687.5" y1="221" x2="687.5" y2="332" stroke="#1e1e1e" stroke-width="1.0" />
<line x1="517.5" y1="228" x2="581" y2="228" stroke="#1e1e1e" stroke-width="1.0" />
<line x1="622.5" y1="228" x2="687.5" y2="228" stroke="#1e1e1e" stroke-width="1.0" />
<polygon points="517.50,228.00 530.50,225.40 530.50,230.60" fill="#1e1e1e"/>
<polygon points="687.50,228.00 674.50,230.60 674.50,225.40" fill="#1e1e1e"/>
<text x="601" y="235" font-size="19" text-anchor="middle" font-weight="normal" fill="#1e1e1e" >151</text>
<line x1="458.75" y1="257.5" x2="595" y2="257.5" stroke="#1e1e1e" stroke-width="1.0" />
<line x1="458.75" y1="426" x2="600" y2="426" stroke="#1e1e1e" stroke-width="1.0" />
<line x1="465.75" y1="257.5" x2="465.75" y2="331" stroke="#1e1e1e" stroke-width="1.0" />
<line x1="465.75" y1="352.5" x2="465.75" y2="426" stroke="#1e1e1e" stroke-width="1.0" />
<polygon points="465.75,257.50 468.35,270.50 463.15,270.50" fill="#1e1e1e"/>
<polygon points="465.75,426.00 463.15,413.00 468.35,413.00" fill="#1e1e1e"/>
<text x="465.5" y="348.75" font-size="19" text-anchor="middle" font-weight="normal" fill="#1e1e1e" >151</text>
<line x1="563.75" y1="423" x2="563.75" y2="477.5" stroke="#1e1e1e" stroke-width="1.0" />
<line x1="585" y1="423" x2="585" y2="477.5" stroke="#1e1e1e" stroke-width="1.0" />
<line x1="620.5" y1="423" x2="620.5" y2="458.75" stroke="#1e1e1e" stroke-width="1.0" />
<line x1="641.25" y1="423" x2="641.25" y2="458.75" stroke="#1e1e1e" stroke-width="1.0" />
<line x1="512" y1="471.7" x2="563.75" y2="471.7" stroke="#1e1e1e" stroke-width="1.0" />
<polygon points="563.75,471.70 550.75,474.30 550.75,469.10" fill="#1e1e1e"/>
<line x1="585" y1="471.7" x2="612.5" y2="471.7" stroke="#1e1e1e" stroke-width="1.0" />
<polygon points="585.00,471.70 598.00,469.10 598.00,474.30" fill="#1e1e1e"/>
<line x1="593.75" y1="451.75" x2="620.5" y2="451.75" stroke="#1e1e1e" stroke-width="1.0" />
<polygon points="620.50,451.75 607.50,454.35 607.50,449.15" fill="#1e1e1e"/>
<line x1="641.25" y1="451.75" x2="692.5" y2="451.75" stroke="#1e1e1e" stroke-width="1.0" />
<polygon points="641.25,451.75 654.25,449.15 654.25,454.35" fill="#1e1e1e"/>
<text x="511.6" y="467.9" font-size="19.5" text-anchor="start" font-weight="normal" fill="#1e1e1e" >G</text>
<text x="530.5" y="457.9" font-size="9.5" text-anchor="start" font-weight="normal" fill="#1e1e1e" >1</text>
<line x1="536.1" y1="467.7" x2="541.6" y2="453.2" stroke="#1e1e1e" stroke-width="1.3" />
<text x="541.2" y="467.5" font-size="11.5" text-anchor="start" font-weight="normal" fill="#1e1e1e" >2</text>
<text x="654.9" y="447.5" font-size="19.5" text-anchor="start" font-weight="normal" fill="#1e1e1e" >G</text>
<text x="673.8" y="437.5" font-size="9.5" text-anchor="start" font-weight="normal" fill="#1e1e1e" >1</text>
<line x1="679.4" y1="447.3" x2="684.9" y2="432.8" stroke="#1e1e1e" stroke-width="1.3" />
<text x="684.5" y="447.1" font-size="11.5" text-anchor="start" font-weight="normal" fill="#1e1e1e" >2</text>
<polygon points="589.5,257.5 615.5,257.5 687.5,327 687.5,353 615.5,422.5 589.5,422.5 517.5,353 517.5,327" stroke="#1e1e1e" stroke-width="1.3" fill="white" stroke-linejoin="round"/>
<line x1="518.8" y1="331" x2="518.8" y2="349" stroke="#1e1e1e" stroke-width="1.6" />
<line x1="686.2" y1="331" x2="686.2" y2="349" stroke="#1e1e1e" stroke-width="1.6" />
<circle cx="602.5" cy="340" r="66.5" stroke="#1e1e1e" stroke-width="1.4" fill="white"/>
<circle cx="602.5" cy="340" r="64.5" stroke="#1e1e1e" stroke-width="1.0" fill="none"/>
<circle cx="602.5" cy="340" r="61.5" stroke="#1e1e1e" stroke-width="1.1" fill="none"/>
<circle cx="602.5" cy="340" r="56.5" stroke="#1e1e1e" stroke-width="1.3" fill="none"/>
<path d="M545.00,303.00 L537.52,293.29 A12.6,12.6 0 0 1 554.33,275.01 L565.00,281.90 Z" stroke="#1e1e1e" stroke-width="0" fill="white" stroke-linejoin="round" />
<path d="M545.00,303.00 L565.00,281.90" stroke="#1e1e1e" stroke-width="1.3" fill="none" stroke-linejoin="round" />
<path d="M545.00,303.00 L537.52,293.29 A12.6,12.6 0 0 1 554.33,275.01 L565.00,281.90" stroke="#1e1e1e" stroke-width="1.6" fill="none" stroke-linejoin="round" />
<circle cx="547.5" cy="285.6" r="8.2" stroke="#1e1e1e" stroke-width="1.6" fill="none"/>
<circle cx="547.5" cy="285.6" r="5.7" stroke="#1e1e1e" stroke-width="1.1" fill="none"/>
<path d="M660.00,303.00 L667.48,293.29 A12.6,12.6 0 0 0 650.67,275.01 L640.00,281.90 Z" stroke="#1e1e1e" stroke-width="0" fill="white" stroke-linejoin="round" />
<path d="M660.00,303.00 L640.00,281.90" stroke="#1e1e1e" stroke-width="1.3" fill="none" stroke-linejoin="round" />
<path d="M660.00,303.00 L667.48,293.29 A12.6,12.6 0 0 0 650.67,275.01 L640.00,281.90" stroke="#1e1e1e" stroke-width="1.6" fill="none" stroke-linejoin="round" />
<circle cx="657.5" cy="285.6" r="8.2" stroke="#1e1e1e" stroke-width="1.6" fill="none"/>
<circle cx="657.5" cy="285.6" r="5.7" stroke="#1e1e1e" stroke-width="1.1" fill="none"/>
<path d="M545.00,377.00 L537.52,386.71 A12.6,12.6 0 0 0 554.33,404.99 L565.00,398.10 Z" stroke="#1e1e1e" stroke-width="0" fill="white" stroke-linejoin="round" />
<path d="M545.00,377.00 L565.00,398.10" stroke="#1e1e1e" stroke-width="1.3" fill="none" stroke-linejoin="round" />
<path d="M545.00,377.00 L537.52,386.71 A12.6,12.6 0 0 0 554.33,404.99 L565.00,398.10" stroke="#1e1e1e" stroke-width="1.6" fill="none" stroke-linejoin="round" />
<circle cx="547.5" cy="394.4" r="8.2" stroke="#1e1e1e" stroke-width="1.6" fill="none"/>
<circle cx="547.5" cy="394.4" r="5.7" stroke="#1e1e1e" stroke-width="1.1" fill="none"/>
<path d="M660.00,377.00 L667.48,386.71 A12.6,12.6 0 0 1 650.67,404.99 L640.00,398.10 Z" stroke="#1e1e1e" stroke-width="0" fill="white" stroke-linejoin="round" />
<path d="M660.00,377.00 L640.00,398.10" stroke="#1e1e1e" stroke-width="1.3" fill="none" stroke-linejoin="round" />
<path d="M660.00,377.00 L667.48,386.71 A12.6,12.6 0 0 1 650.67,404.99 L640.00,398.10" stroke="#1e1e1e" stroke-width="1.6" fill="none" stroke-linejoin="round" />
<circle cx="657.5" cy="394.4" r="8.2" stroke="#1e1e1e" stroke-width="1.6" fill="none"/>
<circle cx="657.5" cy="394.4" r="5.7" stroke="#1e1e1e" stroke-width="1.1" fill="none"/>
<path d="M559.5,401 L559.5,422.8 L645.5,422.8 L645.5,401" stroke="#1e1e1e" stroke-width="1.2" fill="none" stroke-linejoin="round" />
<path d="M596,423 Q602.5,428 609,423 Z" stroke="#1e1e1e" stroke-width="1" fill="#1e1e1e" stroke-linejoin="round" />
<circle cx="602.5" cy="262.5" r="4.2" stroke="#1e1e1e" stroke-width="1.3" fill="white"/>
<circle cx="602.5" cy="262.5" r="1.5" stroke="#1e1e1e" stroke-width="1" fill="none"/>
<circle cx="602.5" cy="417.8" r="4.2" stroke="#1e1e1e" stroke-width="1.3" fill="white"/>
<circle cx="602.5" cy="417.8" r="1.5" stroke="#1e1e1e" stroke-width="1" fill="none"/>
<circle cx="525.6" cy="340" r="4.2" stroke="#1e1e1e" stroke-width="1.3" fill="white"/>
<circle cx="525.6" cy="340" r="1.5" stroke="#1e1e1e" stroke-width="1" fill="none"/>
<circle cx="679.4" cy="340" r="4.2" stroke="#1e1e1e" stroke-width="1.3" fill="white"/>
<circle cx="679.4" cy="340" r="1.5" stroke="#1e1e1e" stroke-width="1" fill="none"/>
<g clip-path="url(#ic)">
<line x1="587.6" y1="296" x2="587.6" y2="392" stroke="#3a3a3a" stroke-width="1.9" />
<line x1="602.5" y1="296" x2="602.5" y2="392" stroke="#3a3a3a" stroke-width="1.9" />
<line x1="617.4" y1="296" x2="617.4" y2="392" stroke="#3a3a3a" stroke-width="1.9" />
<line x1="632.3" y1="296" x2="632.3" y2="392" stroke="#3a3a3a" stroke-width="1.9" />
<line x1="647.2" y1="296" x2="647.2" y2="392" stroke="#3a3a3a" stroke-width="1.9" />
<line x1="587.6" y1="296" x2="662" y2="296" stroke="#3a3a3a" stroke-width="1.9" />
<line x1="587.6" y1="311" x2="662" y2="311" stroke="#3a3a3a" stroke-width="1.9" />
<line x1="587.6" y1="325.9" x2="662" y2="325.9" stroke="#3a3a3a" stroke-width="1.9" />
<line x1="587.6" y1="340.8" x2="662" y2="340.8" stroke="#3a3a3a" stroke-width="1.9" />
<line x1="587.6" y1="355.7" x2="662" y2="355.7" stroke="#3a3a3a" stroke-width="1.9" />
<line x1="587.6" y1="370.6" x2="662" y2="370.6" stroke="#3a3a3a" stroke-width="1.9" />
<line x1="587.6" y1="385.5" x2="662" y2="385.5" stroke="#3a3a3a" stroke-width="1.9" />
<path d="M586.5,341 L586.5,352 Q586.5,356 590,356 L598.5,356 Q600.8,356 600.8,359 L600.8,364.5 Q606,365 610,369 Q613,373 615.4,384 L615.4,400 L540,400 L540,341 Z" stroke="#1e1e1e" stroke-width="0" fill="white" stroke-linejoin="round" />
<path d="M586.5,341 L586.5,352 Q586.5,356 590,356 L598.5,356 Q600.8,356 600.8,359 L600.8,364.5 Q606,365 610,369 Q613,373 615.4,384 L660,384" stroke="#1e1e1e" stroke-width="1.1" fill="none" stroke-linejoin="round" />
<line x1="587.3" y1="355.5" x2="587.3" y2="364.5" stroke="#1e1e1e" stroke-width="1.1" />
<line x1="587.3" y1="364.5" x2="600.8" y2="364.5" stroke="#1e1e1e" stroke-width="1.1" />
</g>
<circle cx="625.4" cy="338.5" r="30" stroke="#1e1e1e" stroke-width="1.2" fill="white"/>
<circle cx="625.4" cy="338.5" r="28.5" stroke="#1e1e1e" stroke-width="1.1" fill="none"/>
<circle cx="625.4" cy="338.5" r="26.3" stroke="#1e1e1e" stroke-width="1.3" fill="none"/>
<text x="603.6" y="290.8" font-size="5.2" text-anchor="middle" font-weight="bold" fill="#1e1e1e" >GROHE</text>
<path d="M596,292 Q603.6,295.5 611,292" stroke="#1e1e1e" stroke-width="1.1" fill="none" stroke-linejoin="round" />
<path d="M579.6,295 L582.6,295 L581.6,305 L580.6,305 Z" stroke="#1e1e1e" stroke-width="0" fill="#1e1e1e" stroke-linejoin="round" />
<circle cx="581.1" cy="307.6" r="1.2" stroke="#1e1e1e" stroke-width="0" fill="#1e1e1e"/>
<path d="M558.6,320 L558.6,343 Q571,349 583.4,343 L583.4,320" stroke="#1e1e1e" stroke-width="1.2" fill="white" stroke-linejoin="round" />
<ellipse cx="571" cy="320" rx="12.4" ry="6.4" stroke="#1e1e1e" stroke-width="1.5" fill="white"/>
<path d="M556,347 Q571,355 587,347" stroke="#1e1e1e" stroke-width="1.3" fill="none" stroke-linejoin="round" />
<circle cx="556" cy="347" r="1.9" stroke="#1e1e1e" stroke-width="1.2" fill="white"/>
<circle cx="560.3" cy="350.3" r="1.9" stroke="#1e1e1e" stroke-width="1.2" fill="white"/>
<circle cx="565.2" cy="352.5" r="1.9" stroke="#1e1e1e" stroke-width="1.2" fill="white"/>
<circle cx="571" cy="353.5" r="1.9" stroke="#1e1e1e" stroke-width="1.2" fill="white"/>
<circle cx="576.8" cy="352.5" r="1.9" stroke="#1e1e1e" stroke-width="1.2" fill="white"/>
<circle cx="581.7" cy="350.3" r="1.9" stroke="#1e1e1e" stroke-width="1.2" fill="white"/>
<circle cx="586" cy="347" r="1.9" stroke="#1e1e1e" stroke-width="1.2" fill="white"/>
<circle cx="570.5" cy="356.2" r="1.8" stroke="#1e1e1e" stroke-width="1.2" fill="#1e1e1e"/>
<line x1="561.8" y1="373.3" x2="604.5" y2="373.3" stroke="#1e1e1e" stroke-width="0.9" />
<text x="563.3" y="371.8" font-size="4.3" text-anchor="start" font-weight="normal" fill="#1e1e1e" >max. 15 mm</text>
<text x="563.3" y="377.2" font-size="4.3" text-anchor="start" font-weight="normal" fill="#1e1e1e" >max. 3/5"</text>
<line x1="595.1" y1="340" x2="595.1" y2="375.4" stroke="#1e1e1e" stroke-width="0.9" />
<line x1="597.2" y1="340" x2="597.2" y2="375.4" stroke="#1e1e1e" stroke-width="0.9" />
<polygon points="595.10,373.30 591.10,374.60 591.10,372.00" fill="#1e1e1e"/>
<polygon points="597.20,373.30 601.20,372.00 601.20,374.60" fill="#1e1e1e"/>
</svg></body></html>
